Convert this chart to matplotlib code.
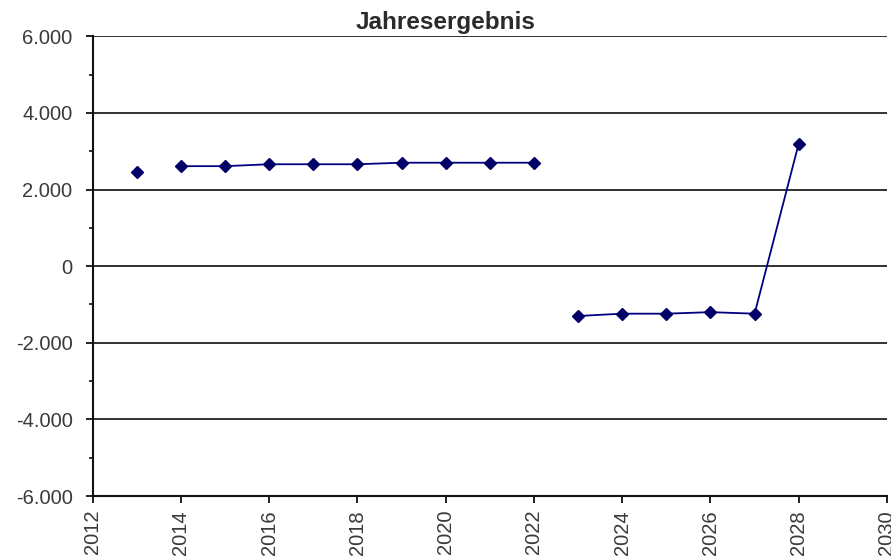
import numpy as np
import matplotlib
matplotlib.use("Agg")
import matplotlib.pyplot as plt
from matplotlib.ticker import FuncFormatter, MultipleLocator

plt.rcParams['font.family'] = ['Liberation Sans', 'DejaVu Sans']

# Jahresergebnis je Jahr, Lücken trennen die Abschnitte der Linie
abschnitte = [
    ([2013], [2450]),
    ([2014, 2015, 2016, 2017, 2018, 2019, 2020, 2021, 2022],
     [2610, 2610, 2660, 2660, 2660, 2700, 2700, 2700, 2700]),
    ([2023, 2024, 2025, 2026, 2027, 2028],
     [-1300, -1240, -1240, -1200, -1240, 3200]),
]
titel = "Jahresergebnis"


def tausender(v, pos):
    # deutsche Schreibweise mit Punkt als Tausendertrenner
    s = f"{abs(int(round(v))):,}".replace(",", ".")
    return ("-" if v < 0 else "") + s


fig = plt.figure(figsize=(8.91, 5.58), dpi=100)
ax = fig.add_axes([0.104, 0.111, 0.8915, 0.824])

for jahre, werte in abschnitte:
    ax.plot(jahre, werte, color='#000080', lw=1.3, marker='D', ms=6,
            markerfacecolor='#000066', markeredgecolor='#000066', zorder=3)

ax.set_xlim(2012, 2030)
ax.set_ylim(-6000, 6000)
ax.xaxis.set_major_locator(MultipleLocator(2))
ax.yaxis.set_major_locator(MultipleLocator(2000))
ax.yaxis.set_minor_locator(MultipleLocator(1000))
ax.yaxis.set_major_formatter(FuncFormatter(tausender))

ax.grid(axis='y', which='major', color='#222222', lw=1.3, zorder=1)
for s in ['top', 'right']:
    ax.spines[s].set_visible(False)
for s in ['left', 'bottom']:
    ax.spines[s].set_linewidth(1.5)
    ax.spines[s].set_color('#111111')

ax.tick_params(axis='both', which='major', direction='out', length=5, width=1.3,
               labelsize=14.5, labelcolor='#3a3a3a', color='#111111')
ax.tick_params(axis='y', which='minor', direction='out', length=3, width=1.2, color='#111111')
ax.tick_params(axis='y', pad=9.5)
ax.tick_params(axis='x', pad=5)
for lbl in ax.get_xticklabels():
    lbl.set_rotation(90)

fig.text(0.5, 1 - 29 / 558, titel, fontsize=17.5, fontweight='bold',
         color='#2a2a2a', ha='center', va='baseline')

fig.savefig("out.png", dpi=100)
